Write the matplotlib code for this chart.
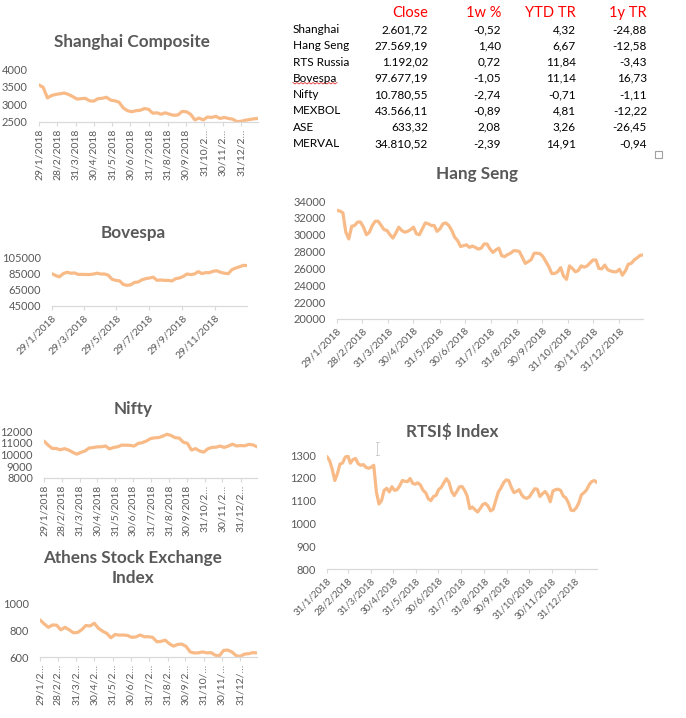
import matplotlib
matplotlib.use('Agg')
import matplotlib.pyplot as plt
import pandas as pd
from matplotlib.lines import Line2D
from matplotlib.patches import Rectangle

plt.rcParams['font.family'] = ['Lato', 'DejaVu Sans']

# ---------------- data ----------------
dates_week = pd.date_range('2018-01-29', periods=53, freq='7D')
dates_half = pd.date_range('2018-01-29', periods=105, freq='84h')
dates_rts = pd.date_range('2018-01-31', periods=105, freq='84h')

shanghai = [3550, 3480, 3180, 3250, 3280, 3300, 3320, 3280, 3220, 3150, 3160, 3170, 3100,
            3090, 3160, 3170, 3200, 3120, 3100, 3060, 2900, 2820, 2790, 2820, 2830, 2880,
            2860, 2750, 2760, 2720, 2760, 2720, 2690, 2700, 2800, 2790, 2720, 2560, 2610,
            2560, 2640, 2630, 2660, 2600, 2630, 2600, 2580, 2510, 2520, 2550, 2570, 2590, 2600]

hang_seng = [32900, 32800, 32600, 30300, 29500, 31000, 31100, 31500, 31500, 30900, 30000,
             30300, 31100, 31600, 31600, 31100, 30600, 30500, 30000, 29600, 30200, 30900,
             30500, 30300, 30400, 30600, 30900, 30100, 30000, 30700, 31400, 31300, 31100,
             31100, 30400, 30700, 31300, 31400, 31100, 30500, 29700, 29300, 28600, 28700,
             28800, 28500, 28650, 28500, 28300, 28400, 28900, 28900, 28300, 27900, 28200,
             28400, 27500, 27400, 27650, 27800, 28100, 28100, 28000, 27300, 26600, 26800,
             27050, 27800, 27800, 27750, 27400, 26800, 26200, 25400, 25400, 25600, 26100,
             25100, 24700, 26300, 26000, 25600, 25750, 26300, 26150, 26300, 26650, 27000,
             27000, 26000, 25950, 26400, 25850, 25700, 25600, 25600, 25900, 25200, 25700,
             26500, 26600, 27000, 27250, 27550, 27600]

bovespa = [85400, 83000, 81500, 85500, 87200, 86000, 86300, 84500, 84500, 84400, 84300,
           84900, 86000, 85000, 85000, 83500, 78500, 77000, 76500, 72000, 70800, 71500,
           74500, 75000, 77800, 79200, 80000, 81000, 77100, 77500, 77000, 77000, 76300,
           79200, 80000, 82000, 85000, 84200, 85000, 88000, 85500, 86700, 86700, 88500,
           89000, 87000, 86000, 85400, 90500, 92500, 94000, 95800, 95500]

nifty = [11140, 10800, 10520, 10510, 10400, 10500, 10380, 10190, 10030, 10180, 10300,
         10550, 10590, 10650, 10660, 10720, 10480, 10600, 10660, 10800, 10790, 10780,
         10720, 10940, 11010, 11150, 11350, 11420, 11440, 11560, 11720, 11620, 11430,
         11400, 11050, 10950, 10380, 10500, 10300, 10200, 10490, 10600, 10620, 10720,
         10600, 10720, 10880, 10730, 10760, 10740, 10860, 10820, 10660]

rtsi = [1293, 1275, 1238, 1188, 1218, 1260, 1265, 1290, 1298, 1264, 1280, 1285, 1262, 1255,
        1258, 1246, 1242, 1246, 1255, 1140, 1085, 1100, 1145, 1154, 1138, 1161, 1145, 1148,
        1165, 1188, 1185, 1183, 1197, 1176, 1172, 1178, 1168, 1145, 1135, 1108, 1100, 1118,
        1123, 1148, 1158, 1178, 1196, 1180, 1140, 1122, 1140, 1160, 1162, 1145, 1120, 1065,
        1072, 1060, 1050, 1065, 1083, 1088, 1076, 1055, 1062, 1100, 1138, 1155, 1178, 1191,
        1188, 1158, 1135, 1140, 1148, 1125, 1113, 1110, 1117, 1135, 1152, 1150, 1118, 1130,
        1140, 1125, 1095, 1142, 1148, 1150, 1145, 1120, 1112, 1090, 1058, 1056, 1068, 1090,
        1125, 1135, 1147, 1170, 1184, 1188, 1179]

athens = [880, 850, 824, 842, 840, 805, 824, 805, 783, 785, 806, 838, 834, 855, 817, 795,
          778, 745, 770, 765, 766, 762, 748, 752, 766, 753, 753, 748, 715, 718, 727, 700,
          682, 695, 697, 680, 638, 630, 632, 638, 631, 633, 613, 610, 650, 652, 638, 610,
          605, 622, 625, 633, 631]

month_ticks = ['2018-01-29', '2018-02-28', '2018-03-31', '2018-04-30', '2018-05-31',
               '2018-06-30', '2018-07-31', '2018-08-31', '2018-09-30', '2018-10-31',
               '2018-11-30', '2018-12-31']
rts_ticks = ['2018-01-31'] + month_ticks[1:]
bov_ticks = ['2018-01-29', '2018-03-29', '2018-05-29', '2018-07-29', '2018-09-29', '2018-11-29']

labels_full = ['29/1/2018', '28/2/2018', '31/3/2018', '30/4/2018', '31/5/2018', '30/6/2018',
               '31/7/2018', '31/8/2018', '30/9/2018', '31/10/2018', '30/11/2018', '31/12/2018']
labels_trunc = labels_full[:9] + ['31/10/2…', '30/11/2…', '31/12/2…']
labels_athens = ['29/1/2…', '28/2/2…', '31/3/2…', '30/4/2…', '31/5/2…', '30/6/2…',
                 '31/7/2…', '31/8/2…', '30/9/2…', '31/10/…', '30/11/…', '31/12/…']
labels_rts = ['31/1/2018'] + labels_full[1:]
labels_bov = ['29/1/2018', '29/3/2018', '29/5/2018', '29/7/2018', '29/9/2018', '29/11/2018']

table_cols = ['Close', '1w %', 'YTD TR', '1y TR']
table_names = ['Shanghai', 'Hang Seng', 'RTS Russia', 'Bovespa', 'Nifty', 'MEXBOL', 'ASE', 'MERVAL']
table_close = ['2.601,72', '27.569,19', '1.192,02', '97.677,19', '10.780,55', '43.566,11', '633,32', '34.810,52']
table_1w = ['-0,52', '1,40', '0,72', '-1,05', '-2,74', '-0,89', '2,08', '-2,39']
table_ytd = ['4,32', '6,67', '11,84', '11,14', '-0,71', '4,81', '3,26', '14,91']
table_1y = ['-24,88', '-12,58', '-3,43', '16,73', '-1,11', '-12,22', '-26,45', '-0,94']

# ---------------- styling ----------------
W, H = 686, 718
LINE = '#F8BB88'
GREY = '#595959'
AXC = '#D9D9D9'

fig = plt.figure(figsize=(W / 100, H / 100), dpi=100)
fig.patch.set_facecolor('white')


def rect(x0, x1, ytop, ybot):
    return [x0 / W, 1 - ybot / H, (x1 - x0) / W, (ybot - ytop) / H]


def fx(x):
    return x / W


def fy(y):
    return 1 - y / H


def chart(r, x, y, ylim, yticks, tdates, tlabels, rot, fsx=7.5, fsy=8):
    ax = fig.add_axes(r)
    ax.patch.set_alpha(0)
    ax.plot(x, y, color=LINE, lw=2.3, solid_joinstyle='round', solid_capstyle='round')
    ax.set_xlim(x[0], x[-1])
    ax.set_ylim(*ylim)
    ax.set_yticks(yticks)
    ax.set_yticklabels([str(v) for v in yticks])
    for s in ('top', 'right', 'left'):
        ax.spines[s].set_visible(False)
    ax.spines['bottom'].set_color(AXC)
    ax.spines['bottom'].set_linewidth(0.9)
    ax.tick_params(axis='y', length=0, pad=8, labelsize=fsy, labelcolor=GREY)
    ax.tick_params(axis='x', length=3, width=0.8, color=AXC, pad=2, labelsize=fsx, labelcolor=GREY)
    ax.set_xticks(pd.to_datetime(tdates))
    ax.set_xticklabels(tlabels)
    for lab in ax.get_xticklabels():
        if rot == 90:
            lab.set_rotation(90)
            lab.set_ha('center')
            lab.set_va('top')
        else:
            lab.set_rotation(45)
            lab.set_ha('right')
            lab.set_va('top')
            lab.set_rotation_mode('anchor')
    return ax


def title(x, y, s, fs=12.3):
    fig.text(fx(x), fy(y), s, ha='center', va='center', fontsize=fs,
             fontweight='bold', color=GREY)


# Shanghai
chart(rect(39, 258, 69, 122), dates_week, shanghai, (2500, 4000), [2500, 3000, 3500, 4000],
      month_ticks, labels_trunc, 90)
title(132, 42, 'Shanghai Composite')

# Hang Seng
chart(rect(337, 643, 201, 319), dates_half, hang_seng, (20000, 34000),
      list(range(20000, 34001, 2000)), month_ticks, labels_full, 45)
title(477, 174, 'Hang Seng')

# Bovespa
chart(rect(52, 247, 258, 306), dates_week, bovespa, (45000, 105000),
      [45000, 65000, 85000, 105000], bov_ticks, labels_bov, 45)
title(133, 233, 'Bovespa')

# Nifty
chart(rect(44, 257, 431, 478), dates_week, nifty, (8000, 12000),
      [8000, 9000, 10000, 11000, 12000], month_ticks, labels_trunc, 90)
title(133, 409, 'Nifty')

# RTSI
chart(rect(327, 597, 455, 569), dates_rts, rtsi, (800, 1300),
      [800, 900, 1000, 1100, 1200, 1300], rts_ticks, labels_rts, 45, fsx=7)
title(452, 431, 'RTSI$ Index')

# Athens
chart(rect(40, 257, 604, 657), dates_week, athens, (600, 1000), [600, 800, 1000],
      month_ticks, labels_athens, 90)
title(133, 558, 'Athens Stock Exchange')
title(133, 578, 'Index')

# ---------------- table ----------------
col_x = [428, 501, 576, 647]
for cx, c in zip(col_x, table_cols):
    fig.text(fx(cx), fy(13), c, ha='right', va='center', fontsize=10.5, color='#FF0000')
for i, name in enumerate(table_names):
    yy = 29.5 + 16.3 * i
    fig.text(fx(293), fy(yy), name, ha='left', va='center', fontsize=8.5, color='black')
    for cx, col in zip(col_x, (table_close, table_1w, table_ytd, table_1y)):
        fig.text(fx(cx), fy(yy), col[i], ha='right', va='center', fontsize=8.5, color='black')

# spell-check squiggle under "Bovespa"
sq_x = [293 + 2 * k for k in range(23)]
sq_y = [83 + (1 if k % 2 else -0.5) for k in range(23)]
fig.add_artist(Line2D([fx(v) for v in sq_x], [fy(v) for v in sq_y], color='#E03030', lw=0.6,
                      transform=fig.transFigure))

# small square marker
fig.add_artist(Rectangle((fx(655), fy(158)), 7 / W, 7 / H, transform=fig.transFigure,
                         fill=False, edgecolor='#A0A0A0', lw=0.8))

# text cursor mark (I-beam)
for (xa, ya, xb, yb) in [(377, 442, 377, 455), (375.5, 442, 378.5, 442), (375.5, 455, 378.5, 455)]:
    fig.add_artist(Line2D([fx(xa), fx(xb)], [fy(ya), fy(yb)], color='#C8C8C8', lw=0.6,
                          transform=fig.transFigure))

fig.savefig('out.png', dpi=100, facecolor='white')
